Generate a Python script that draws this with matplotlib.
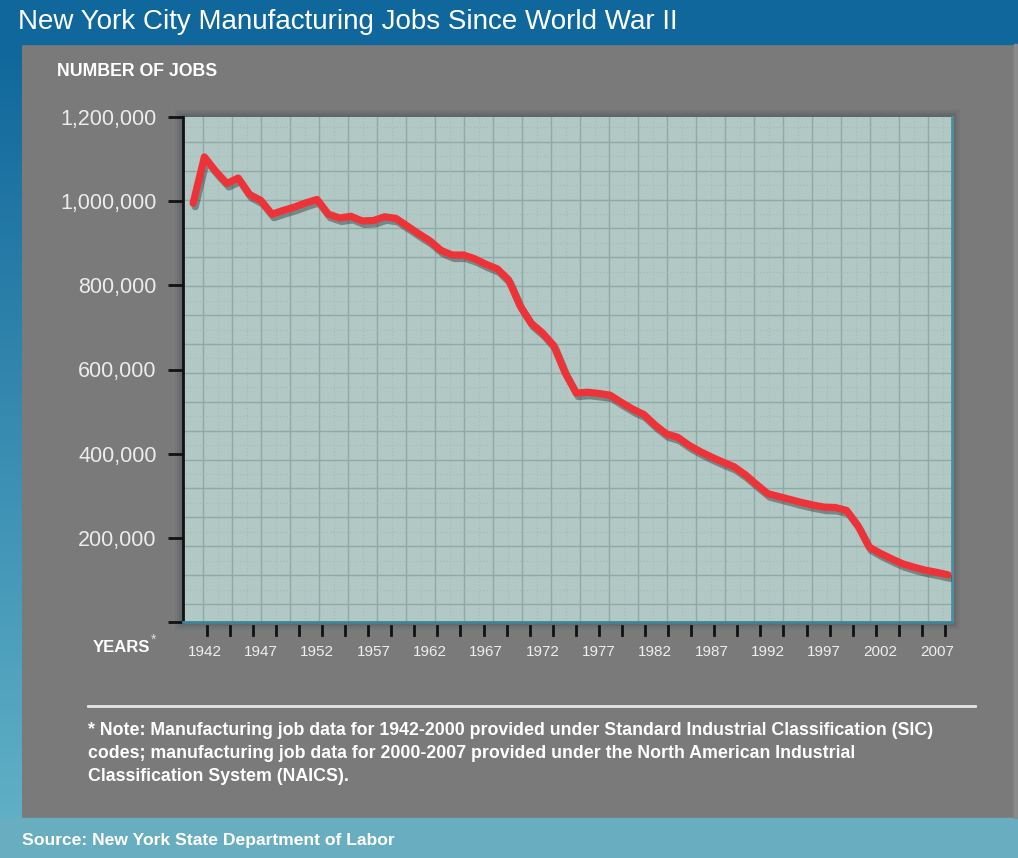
import matplotlib
matplotlib.use("Agg")
import matplotlib.pyplot as plt
import numpy as np
from matplotlib import font_manager
from matplotlib.patches import Rectangle
import matplotlib.patheffects as pe

# data (jobs per year)
years = list(range(1941, 2009))
jobs = [995000, 1105000, 1071000, 1042000, 1055000, 1016000, 1002000, 969000,
        978000, 986000, 996000, 1004000, 969000, 960000, 964000, 953000,
        954000, 963000, 959000, 941000, 923000, 906000, 883000, 872000,
        872000, 863000, 850000, 839000, 813000, 752000, 710000, 687000,
        657000, 593000, 544000, 546000, 543000, 539000, 522000, 506000,
        493000, 468000, 447000, 439000, 420000, 405000, 392000, 380000,
        369000, 350000, 327000, 305000, 298000, 291000, 284000, 278000,
        273000, 272000, 265000, 229000, 178000, 163000, 150000, 138000,
        130000, 123000, 118000, 112000]
ytick_vals = [0, 200000, 400000, 600000, 800000, 1000000, 1200000]
xtick_years = list(range(1942, 2008, 5))

names = {f.name for f in font_manager.fontManager.ttflist}
narrow = 'Liberation Sans Narrow' if 'Liberation Sans Narrow' in names else 'Liberation Sans'
sans = 'Liberation Sans'

W, H = 1018, 858
fig = plt.figure(figsize=(W / 100, H / 100), dpi=100)
fig.patch.set_facecolor('#7a7a7a')

def px(x, y, w, h):
    return [x / W, 1 - (y + h) / H, w / W, h / H]

# frame: blue top band, left gradient strip, teal bottom band
bg = fig.add_axes([0, 0, 1, 1])
bg.set_xlim(0, W)
bg.set_ylim(H, 0)
bg.axis('off')
bg.add_patch(Rectangle((0, 0), W, 44, color='#10679b'))
grad = np.linspace(0, 1, 200).reshape(-1, 1)
cmap = matplotlib.colors.LinearSegmentedColormap.from_list('g', ['#10679b', '#5fb0c6'])
bg.imshow(grad, extent=(0, 22, 818, 44), cmap=cmap, aspect='auto')
bg.add_patch(Rectangle((0, 818), W, 40, color='#68adc0'))
bg.add_patch(Rectangle((1014, 44), 4, 774, color='#8a8a8a'))
# shadow round the plot area
for i, a in enumerate([0.06, 0.08, 0.10, 0.12]):
    d = 8 - 2 * i
    bg.add_patch(Rectangle((183 - d, 117 - d), 769 + 2 * d, 505 + 2 * d,
                           color='#2f3f44', alpha=a, lw=0))
bg.plot([88, 975], [706, 706], color='#e6e6e6', lw=2)
bg.set_xlim(0, W)
bg.set_ylim(H, 0)

fig.text(18 / W, 1 - 22 / H, 'New York City Manufacturing Jobs Since World War II',
         color='white', fontsize=20, family=narrow, va='center', ha='left')
fig.text(57 / W, 1 - 72 / H, 'NUMBER OF JOBS', color='white', fontsize=12.8,
         family=narrow, weight='bold', va='center')
fig.text(93 / W, 1 - 647 / H, 'YEARS', color='white', fontsize=12,
         family=narrow, weight='bold', va='center')
fig.text(151 / W, 1 - 640 / H, '*', color='#dddddd', fontsize=10,
         family=sans, va='center')

note = ('* Note: Manufacturing job data for 1942-2000 provided under Standard Industrial Classification (SIC)\n'
        'codes; manufacturing job data for 2000-2007 provided under the North American Industrial\n'
        'Classification System (NAICS).')
fig.text(88 / W, 1 - 722 / H, note, color='white', fontsize=12.8, family=sans,
         weight='bold', va='top', ha='left', linespacing=1.45)
fig.text(22 / W, 1 - 840 / H, 'Source: New York State Department of Labor',
         color='white', fontsize=12.6, family=sans, weight='bold', va='center')

ax = fig.add_axes(px(183, 117, 769, 505))
ax.set_facecolor('#b2c8c4')
ax.set_xlim(1940.1, 2008.35)
ax.set_ylim(0, 1200000)

# grid (decorative, not aligned to ticks)
for k in range(26):
    xf = (203.3 + 29.0 * k - 183) / 769
    ax.plot([xf, xf], [0, 1], transform=ax.transAxes, color='#8fa9a6', lw=1, zorder=1)
    ax.plot([xf + 14.5 / 769] * 2, [0, 1], transform=ax.transAxes, color='#a3bbb8',
            lw=0.8, ls=(0, (1, 2)), zorder=1)
for k in range(17):
    yf = (622 - (141.7 + 28.9 * k)) / 505
    ax.plot([0, 1], [yf, yf], transform=ax.transAxes, color='#8fa9a6', lw=1, zorder=1)
    ax.plot([0, 1], [yf + 14.45 / 505] * 2, transform=ax.transAxes, color='#a3bbb8',
            lw=0.8, ls=(0, (1, 2)), zorder=1)

ax.plot(years, jobs, color='#ee3338', lw=5.2, solid_joinstyle='round',
        solid_capstyle='round', zorder=3,
        path_effects=[pe.SimpleLineShadow(offset=(1.5, -2.5), shadow_color='#2a3a3a', alpha=0.45),
                      pe.Normal()])

ax.spines['top'].set_visible(False)
ax.spines['left'].set_color('#111111')
ax.spines['left'].set_linewidth(2)
ax.spines['bottom'].set_color('#3d8597')
ax.spines['bottom'].set_linewidth(2)
ax.spines['right'].set_color('#4d8fa0')
ax.spines['right'].set_linewidth(2)

ax.set_yticks(ytick_vals)
ax.set_yticklabels(['' if v == 0 else f'{v:,}' for v in ytick_vals])
ax.tick_params(axis='y', direction='out', length=11, width=2, color='#111111',
               pad=8, labelcolor='#ececec', labelsize=15.5)
for lab in ax.get_yticklabels():
    lab.set_family(sans)

# small decorative x ticks below the axis
ax.set_xticks([])
tick_x = np.linspace((206.7 - 183) / 769, (945 - 183) / 769, 33)
for t in tick_x:
    ax.plot([t, t], [-4 / 505, -13 / 505], transform=ax.transAxes, color='#111111',
            lw=2, clip_on=False)
for yr in xtick_years:
    ax.text(yr, -30 / 505 * 1200000, str(yr), ha='center', va='center',
            color='#eeeeee', fontsize=11, family=narrow)

fig.savefig('out.png', dpi=100, facecolor=fig.get_facecolor())
